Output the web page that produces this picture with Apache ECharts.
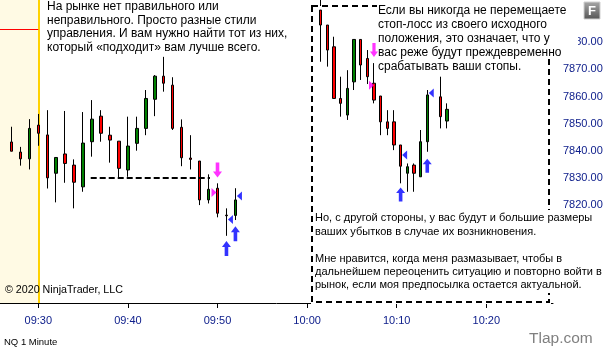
<!DOCTYPE html>
<html><head><meta charset="utf-8">
<script src="https://cdn.jsdelivr.net/npm/echarts@6/dist/echarts.min.js"></script>
<style>html,body{margin:0;padding:0;background:#fff}#c{width:606px;height:350px}</style>
</head><body><div id="c"></div>
<script>
// ---------- data ----------
const mainTimes = ['09:27','09:28','09:29','09:30','09:31','09:32','09:33','09:34','09:35','09:36',
  '09:37','09:38','09:39','09:40','09:41','09:42','09:43','09:44','09:45','09:46','09:47','09:48',
  '09:49','09:50','09:51','09:52'];
// [open, close, low, high]
const mainCandles = [
  [7843.3,7839.9,7839.9,7848.9],[7839.6,7837.1,7834.6,7841.5],[7837.1,7848.3,7833.2,7851.7],
  [7849.5,7846.5,7841.9,7853.6],[7845.9,7830.1,7826.2,7855.0],[7831.8,7837.6,7821.1,7837.6],
  [7838.9,7835.4,7828.3,7854.7],[7834.8,7828.5,7818.9,7836.9],[7826.8,7842.9,7825.0,7854.3],
  [7843.4,7851.7,7837.9,7858.7],[7852.8,7846.5,7843.4,7855.0],[7845.8,7844.0,7835.7,7848.9],
  [7843.6,7833.6,7830.1,7843.6],[7833.0,7841.8,7830.5,7852.6],[7842.8,7848.3,7840.1,7852.6],
  [7848.3,7859.3,7845.8,7862.4],[7859.0,7867.5,7852.8,7867.9],[7867.5,7864.9,7861.8,7874.6],
  [7864.2,7848.3,7847.7,7867.1],[7848.7,7837.5,7834.4,7851.6],[7837.4,7836.9,7833.2,7845.8],
  [7836.3,7822.0,7820.1,7836.3],[7822.0,7825.9,7820.7,7831.4],[7826.3,7817.1,7815.6,7828.1],
  [7816.4,7816.2,7808.8,7818.9],[7816.3,7822.0,7814.6,7826.3]
];
// inset chart (dashed frame): bar index and [open, close, low, high]
const insetIdx = [0,1,2,3,4,5,6,7,8,9,10,11,12,13,14,15,16,18,19];
const insetCandles = [
  [7891.8,7886.3,7872.8,7891.8],[7886.3,7877.1,7871.0,7886.3],[7878.3,7859.3,7859.3,7882.0],
  [7859.3,7857.5,7852.6,7867.3],[7853.2,7863.0,7851.4,7869.7],[7865.4,7881.0,7862.4,7881.0],
  [7881.0,7871.6,7866.1,7881.0],[7874.0,7867.3,7864.6,7877.1],[7864.9,7858.7,7857.5,7872.3],
  [7860.2,7850.7,7845.8,7860.2],[7850.7,7848.3,7845.8,7855.0],[7850.7,7842.2,7840.3,7855.0],
  [7842.2,7834.4,7828.1,7842.2],[7831.8,7834.2,7825.0,7835.4],[7834.8,7831.8,7825.0,7835.4],
  [7830.5,7843.4,7830.5,7847.7],[7843.4,7860.6,7839.7,7862.4],[7859.9,7852.6,7848.3,7867.3],
  [7851.0,7855.3,7848.3,7857.5]
];
// execution markers
const mainSellArrows = [['09:50',7833.0]];
const mainSellFills  = [['09:50',7824.7]];
const mainBuyArrows  = [['09:51',7804.1],['09:52',7809.6]];
const mainBuyFills   = [['09:51',7814.8],['09:52',7823.4]];
const insetSellArrows = [[8,7877.1]];
const insetSellFills  = [[8,7864.2]];
const insetBuyArrows  = [[12,7824.0],[16,7834.6]];
const insetBuyFills   = [[12,7838.5],[16,7861.3]];
// levels
const sessionStart = '09:30';
const priorLevel = 7884.7;
const stopLevel = 7830;
const stopFrom = '09:35.85', stopTo = '09:49.16';
// axis ticks
const xTickLabels = ['09:30','09:40','09:50','10:00','10:10','10:20'];
const yTickLabels = [7820,7830,7840,7850,7860,7870,7880];

// ---------- helpers ----------
const toMin = s => { const [h,m] = s.split(':'); return (+h)*60 + parseFloat(m) - 540; };
const fmtMin = v => { const t = Math.round(v) + 540; const h = Math.floor(t/60), m = t%60;
  return String(h).padStart(2,'0') + ':' + String(m).padStart(2,'0'); };

const xMin = 30 - 38.3/8.96, xMax = xMin + 553/8.96;
const iMin = -320.7/6.66, iMax = iMin + 553/6.66;

const mainData = mainTimes.map((t,i) => [toMin(t)].concat(mainCandles[i]));
const insetData = insetIdx.map((k,i) => [k].concat(insetCandles[i]));
const mapT = arr => arr.map(d => [toMin(d[0]), d[1]]);

const UP = 'path://M5,0L10,6L7,6L7,15L3,15L3,6L0,6Z';
const DOWN = 'path://M3,0L7,0L7,9L10,9L5,15L0,9L3,9Z';
const LEFT = 'path://M0,5L6,0L6,10Z';
const RIGHT = 'path://M6,5L0,0L0,10Z';
const MAG = '#ff00ff', BLUE = '#0000ff';
const candleStyle = {color:'#008000', color0:'#ff0000', borderColor:'#000', borderColor0:'#000', borderWidth:1};
const mk = (name, xi, data, sym, size, color, off) => ({
  type:'scatter', name, xAxisIndex:xi, yAxisIndex:0, data, symbol:sym, symbolSize:size,
  symbolOffset:off, itemStyle:{color}, z:4, silent:true
});
const levelSeries = (name, z, lineStyle, data) => ({
  type:'line', name, xAxisIndex:0, yAxisIndex:0, data:[], silent:true,
  markLine:{silent:true, z, symbol:'none', label:{show:false}, lineStyle, data}
});

const chart = echarts.init(document.getElementById('c'), null, {renderer:'canvas'});
const labelColor = '#10208c';
const FONT = '"Liberation Sans", Arial, sans-serif';

chart.setOption({
  animation:false,
  backgroundColor:'#ffffff',
  grid:{left:0, right:53, top:0, bottom:47, containLabel:false},
  xAxis:[
    {type:'value', min:xMin, max:xMax, gridIndex:0,
      axisLine:{show:true, lineStyle:{color:'#000', width:1}},
      axisTick:{show:true, length:5, lineStyle:{color:'#000'}, customValues:xTickLabels.map(toMin)},
      axisLabel:{show:true, margin:12, color:labelColor, fontSize:11, fontFamily:FONT,
        customValues:xTickLabels.map(toMin), formatter:v => fmtMin(v)},
      splitLine:{show:false}},
    {type:'value', min:iMin, max:iMax, gridIndex:0, show:false, splitLine:{show:false}}
  ],
  yAxis:[{type:'value', position:'right', min:7784.1, max:7895.5, scale:true,
    axisLine:{show:true, lineStyle:{color:'#000', width:1}},
    axisTick:{show:true, length:6, lineStyle:{color:'#000'}, customValues:yTickLabels},
    axisLabel:{show:true, margin:10, color:labelColor, fontSize:11, fontFamily:FONT,
      customValues:yTickLabels, formatter:v => v.toFixed(2)},
    splitLine:{show:false}}],
  series:[
    {type:'candlestick', name:'NQ 1 Minute', xAxisIndex:0, yAxisIndex:0, barWidth:3,
      data:mainData, encode:{x:0, y:[1,2,3,4]}, itemStyle:candleStyle, silent:true, z:2,
      markArea:{silent:true, z:0, itemStyle:{color:'#fffae4'},
        data:[[{xAxis:xMin},{xAxis:toMin(sessionStart)}]]}},
    levelSeries('session', 1, {color:'#ffd200', width:2, type:'solid'},
      [{xAxis:toMin(sessionStart)}]),
    levelSeries('prior', 1, {color:'#ff0000', width:1, type:'solid'},
      [[{coord:[xMin, priorLevel]},{coord:[toMin(sessionStart), priorLevel]}]]),
    levelSeries('stop', 3, {color:'#000', width:2, type:[6,3]},
      [[{coord:[toMin(stopFrom), stopLevel]},{coord:[toMin(stopTo), stopLevel]}]]),
    {type:'candlestick', name:'inset', xAxisIndex:1, yAxisIndex:0, barWidth:3,
      data:insetData, encode:{x:0, y:[1,2,3,4]}, itemStyle:candleStyle, silent:true, z:2},
    mk('mainSell', 0, mapT(mainSellArrows), DOWN, [9,15], MAG, [0,0]),
    mk('mainSellFill', 0, mapT(mainSellFills), RIGHT, [5,9], MAG, [-3.5,0]),
    mk('mainBuy', 0, mapT(mainBuyArrows), UP, [9,15], BLUE, [0,0]),
    mk('mainBuyFill', 0, mapT(mainBuyFills), LEFT, [5,9], BLUE, [4,0]),
    mk('insetSell', 1, insetSellArrows, DOWN, [8,14], MAG, [0,0]),
    mk('insetSellFill', 1, insetSellFills, RIGHT, [5,9], MAG, [-2.5,0]),
    mk('insetBuy', 1, insetBuyArrows, UP, [9,14], BLUE, [0,0]),
    mk('insetBuyFill', 1, insetBuyFills, LEFT, [5,9], BLUE, [4,0])
  ],
  graphic:{elements:[
    {type:'rect', z:1, silent:true, shape:{x:311, y:301.5, width:240, height:2.5}, style:{fill:'#fff'}},
    {type:'rect', z:1, silent:true, shape:{x:312, y:6, width:237, height:296},
      style:{fill:'#fff', stroke:'#000', lineWidth:2, lineDash:[6,4]}},
    {type:'rect', z:1, silent:true, shape:{x:377, y:0, width:201, height:56}, style:{fill:'#fff'}},
    {type:'rect', z:1, silent:true, shape:{x:314, y:210, width:292, height:83}, style:{fill:'#fff'}},
    {type:'text', z:10, silent:true, style:{x:47, y:0, fill:'#000', font:'12px ' + FONT, lineHeight:13.5,
      verticalAlign:'top',
      text:'На рынке нет правильного или\nнеправильного. Просто разные стили\nуправления. И вам нужно найти тот из них,\nкоторый «подходит» вам лучше всего.'}},
    {type:'text', z:10, silent:true, style:{x:378, y:3.5, fill:'#000', font:'12px ' + FONT, lineHeight:14,
      verticalAlign:'top',
      text:'Если вы никогда не перемещаете\nстоп-лосс из своего исходного\nположения, это означает, что у\nвас реже будут преждевременно\nсрабатывать ваши стопы.'}},
    {type:'text', z:10, silent:true, style:{x:315, y:211.6, fill:'#000', font:'11px ' + FONT, lineHeight:13.4,
      verticalAlign:'top',
      text:'Но, с другой стороны, у вас будут и большие размеры\nваших убытков в случае их возникновения.\n\nМне нравится, когда меня размазывает, чтобы в\nдальнейшем переоценить ситуацию и повторно войти в\nрынок, если моя предпосылка остается актуальной.'}},
    {type:'text', z:10, silent:true, style:{x:5, y:290.3, fill:'#000', font:'10.7px ' + FONT,
      verticalAlign:'middle', text:'© 2020 NinjaTrader, LLC'}},
    {type:'text', z:10, silent:true, style:{x:4, y:342, fill:'#000', font:'9.5px ' + FONT,
      verticalAlign:'middle', text:'NQ 1 Minute'}},
    {type:'text', z:10, silent:true, style:{x:529, y:339, fill:'#808080', font:'15.5px ' + FONT,
      verticalAlign:'middle', text:'Tlap.com'}},
    {type:'rect', z:10, silent:true, shape:{x:584, y:2, width:16, height:17},
      style:{stroke:'#d0d0d0', lineWidth:1, fill:{type:'linear', x:0, y:0, x2:0, y2:1,
        colorStops:[{offset:0, color:'#a8a8a8'},{offset:1, color:'#555555'}]}}},
    {type:'text', z:11, silent:true, style:{x:592, y:11, fill:'#fff', font:'bold 13px ' + FONT,
      align:'center', verticalAlign:'middle', text:'F'}}
  ]}
});
</script></body></html>
